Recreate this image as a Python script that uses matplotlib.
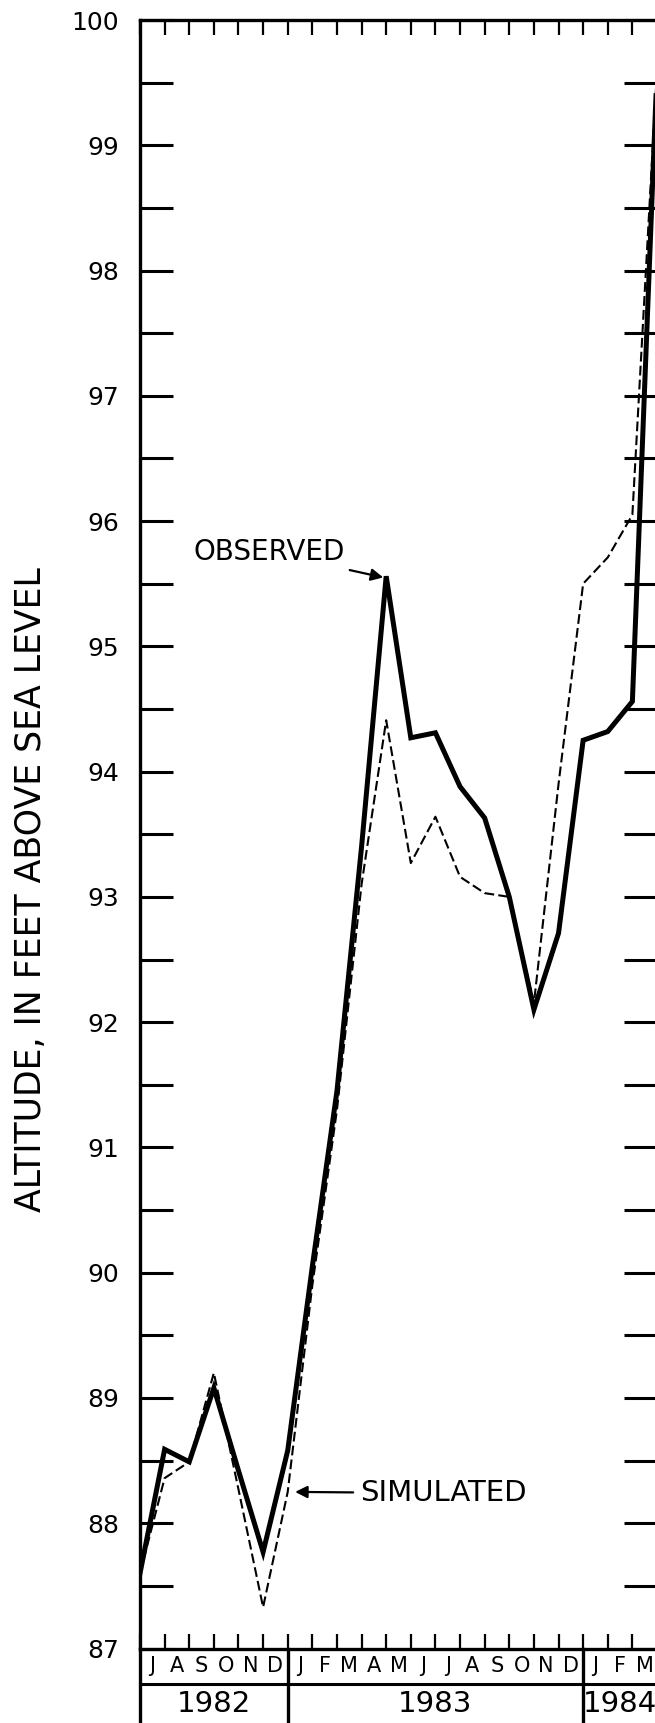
import matplotlib
matplotlib.use('Agg')
import matplotlib.pyplot as plt
from matplotlib.ticker import MultipleLocator

# monthly water levels, July 1982 through April 1984 (feet above sea level)
observed = [87.6, 88.59, 88.49, 89.08, 88.42, 87.77, 88.58, 90.05, 91.45, 93.4, 95.56,
            94.27, 94.31, 93.88, 93.63, 93.0, 92.1, 92.71, 94.25, 94.32, 94.56, 99.6]
simulated = [87.6, 88.36, 88.49, 89.2, 88.27, 87.33, 88.25, 89.9, 91.3, 93.1, 94.41,
             93.27, 93.64, 93.16, 93.03, 93.0, 92.15, 93.9, 95.5, 95.71, 96.05, 99.6]
month_labels = ['J', 'A', 'S', 'O', 'N', 'D',
                'J', 'F', 'M', 'A', 'M', 'J', 'J', 'A', 'S', 'O', 'N', 'D',
                'J', 'F', 'M']
years = ['1982', '1983', '1984']
year_edges = [0, 6, 18, 21]

fig = plt.figure(figsize=(6.55, 17.23), dpi=100)
ax = fig.add_axes([140 / 655, 74.5 / 1723, 517 / 655, 1628.5 / 1723])

x = list(range(len(observed)))
ax.plot(x, simulated, color='black', lw=1.5, linestyle=(0, (4.7, 2.0)), zorder=2)
ax.plot(x, observed, color='black', lw=3.6, solid_joinstyle='miter', zorder=3)

ax.set_xlim(0, len(month_labels))
ax.set_ylim(87, 100)

for s in ax.spines.values():
    s.set_linewidth(2.4)

ax.yaxis.set_major_locator(MultipleLocator(1))
ax.yaxis.set_minor_locator(MultipleLocator(0.5))
ax.xaxis.set_major_locator(MultipleLocator(1))
ax.tick_params(axis='y', which='both', direction='in', length=24, width=2.2,
               left=True, right=True, labelsize=18, pad=15)
ax.tick_params(axis='x', which='major', direction='in', length=11, width=1.6,
               top=True, bottom=True, labelbottom=False)
ax.set_yticklabels([f'{v:.0f}' for v in ax.get_yticks()])

# month / year table under the plot
tr = ax.get_xaxis_transform()
row_mid = -35.5 / 1628.5
bottom = -74.5 / 1628.5
ax.plot([0, len(month_labels)], [row_mid, row_mid], transform=tr, color='black', lw=2.2, clip_on=False)
for e in year_edges[:-1]:
    ax.plot([e, e], [0, bottom], transform=tr, color='black', lw=2.4, clip_on=False)
for i, m in enumerate(month_labels):
    ax.text(i + 0.5, row_mid / 2, m, transform=tr, ha='center', va='center', fontsize=15)
for i, yr in enumerate(years):
    ax.text((year_edges[i] + year_edges[i + 1]) / 2, -56 / 1628.5, yr, transform=tr,
            ha='center', va='center', fontsize=21)

fig.text(31 / 655, 1 - 890 / 1723, 'ALTITUDE, IN FEET ABOVE SEA LEVEL', rotation=90,
         ha='center', va='center', fontsize=25)

ax.annotate('OBSERVED', xy=(9.88, 95.55), xytext=(8.33, 95.75), ha='right', va='center',
            fontsize=20, arrowprops=dict(arrowstyle='-|>', color='black', lw=1.6,
                                         mutation_scale=18, shrinkA=3, shrinkB=0))
ax.annotate('SIMULATED', xy=(6.3, 88.25), xytext=(8.94, 88.24), ha='left', va='center',
            fontsize=21, arrowprops=dict(arrowstyle='-|>', color='black', lw=1.6,
                                         mutation_scale=18, shrinkA=3, shrinkB=0))

fig.savefig('out.png', dpi=100)
